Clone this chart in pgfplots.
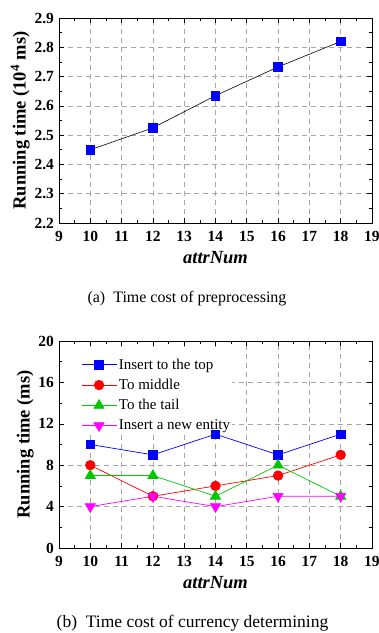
\documentclass[border=0pt]{standalone}
\usepackage{pgfplots}
\pgfplotsset{compat=1.18}
\usepackage{fontspec}
\setmainfont{Liberation Serif}
\definecolor{mblue}{RGB}{0,0,255}
\definecolor{mred}{RGB}{255,0,0}
\definecolor{mgreen}{RGB}{0,200,0}
\definecolor{mmag}{RGB}{255,0,255}
\pgfplotsset{
  common/.style={
    scale only axis,
    width=313pt,
    xmin=9, xmax=19,
    xtick={9,10,...,19},
    minor x tick num=1,
    tick align=inside,
    major tick length=5pt,
    minor tick length=3pt,
    every tick/.style={black, line width=0.6pt},
    axis line style={line width=0.9pt},
    grid=major,
    major grid style={gray!70, dash pattern=on 5pt off 4pt, line width=0.6pt},
    tick label style={font=\fontsize{15.5}{15.5}\selectfont\bfseries},
    xticklabel style={yshift=-5pt},
    yticklabel style={xshift=-1.5pt},
    /pgf/number format/assume math mode=true,
    xlabel={\textit{attrNum}},
    xlabel style={font=\fontsize{18.5}{18.5}\selectfont\bfseries, yshift=-2.5pt},
    ylabel style={font=\fontsize{18.5}{18.5}\selectfont\bfseries, yshift=-2pt},
    clip=false,
  }
}
\begin{document}
\begin{tikzpicture}
\path[use as bounding box] (-59pt,223pt) rectangle (320pt,-410pt);
\begin{axis}[common,
  at={(0pt,0pt)}, anchor=south west,
  height=205pt,
  ymin=2.2, ymax=2.9,
  ytick={2.2,2.3,...,2.9},
  minor y tick num=1,
  yticklabel style={/pgf/number format/fixed, /pgf/number format/precision=1, /pgf/number format/fixed zerofill},
  ylabel={Running time (10$^{\mathbf{4}}$ ms)},
]
\addplot[black, line width=0.6pt, mark=square*, mark size=4.3pt, mark options={mblue, draw=mblue}]
coordinates {(10,2.45) (12,2.525) (14,2.635) (16,2.733) (18,2.82)};
\end{axis}
\node[font=\fontsize{16}{16}\selectfont] at (128pt,-76pt) {(a)\ \ Time cost of preprocessing};
\begin{axis}[common,
  at={(0pt,-325pt)}, anchor=south west,
  height=207pt,
  ymin=0, ymax=20,
  ytick={0,4,...,20},
  minor y tick num=1,
  ylabel={Running time (ms)},
  legend style={at={(rel axis cs:0,1)}, anchor=north west, xshift=2pt, yshift=-4.5pt,
    draw=none, fill=none,
    font=\fontsize{15}{15}\selectfont, row sep=4.5pt, inner xsep=20pt, inner ysep=11pt,
    /tikz/every even column/.append style={column sep=0pt}},
  legend cell align=left,
  legend image code/.code={\draw[#1] (0pt,0pt) -- (35pt,0pt); \draw[#1, only marks] plot coordinates {(17.5pt,0pt)};},
]
\fill[white] ([xshift=5.5pt]rel axis cs:0,0.56) rectangle ([yshift=-5.5pt]rel axis cs:0.553,1);
\addplot[mblue, line width=0.7pt, mark=square*, mark size=4.3pt, mark options={fill=mblue}]
coordinates {(10,10) (12,9) (14,11) (16,9) (18,11)};
\addlegendentry{Insert to the top}
\addplot[mred, line width=0.7pt, mark=*, mark size=4.8pt, mark options={fill=mred}]
coordinates {(10,8) (12,5) (14,6) (16,7) (18,9)};
\addlegendentry{To middle}
\addplot[mgreen, line width=0.7pt, mark=triangle*, mark size=5.8pt, mark options={fill=mgreen}]
coordinates {(10,7) (12,7) (14,5) (16,8) (18,5)};
\addlegendentry{To the tail}
\addplot[mmag, line width=0.7pt, mark=triangle*, mark size=5.8pt, mark options={fill=mmag, rotate=180}]
coordinates {(10,4) (12,5) (14,4) (16,5) (18,5)};
\addlegendentry{Insert a new entity\hspace*{-17pt}}
\end{axis}
\node[font=\fontsize{17.5}{17.5}\selectfont] at (133.5pt,-400pt) {(b)\ \ Time cost of currency determining};
\end{tikzpicture}
\end{document}
